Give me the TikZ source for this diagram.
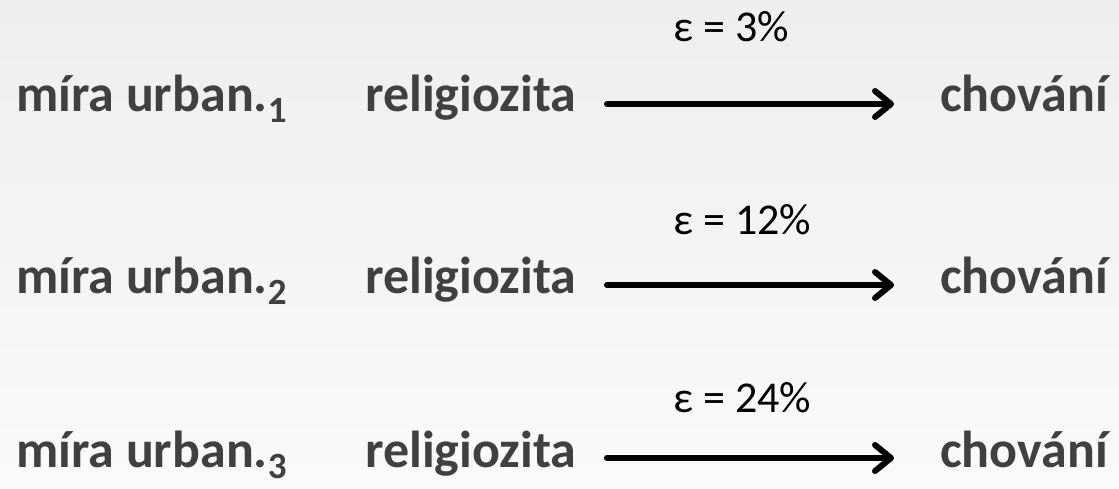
\documentclass[tikz,border=0pt]{standalone}
\usepackage{fontspec}
\setmainfont{Carlito}
\usetikzlibrary{arrows.meta}
\definecolor{txt}{HTML}{404040}
\definecolor{bgtop}{HTML}{EEEEEE}
\definecolor{bgbot}{HTML}{FAFAFA}
\newcommand{\subidx}[1]{\raisebox{-11pt}{\fontsize{37}{40}\selectfont #1}}
\begin{document}
\begin{tikzpicture}[x=1pt,y=-1pt,
  lbl/.style={inner sep=0pt, anchor=base west, text=txt, font=\fontsize{52}{60}\selectfont\bfseries},
  eps/.style={inner sep=0pt, anchor=base west, text=black, font=\fontsize{44}{50}\selectfont},
  conn/.style={line width=6pt, line cap=round, -{Straight Barb[length=16pt,width=26pt,line cap=round,line join=round]}}]
\shade[top color=bgtop, bottom color=bgbot] (0,0) rectangle (1119,489);
\useasboundingbox (0,0) rectangle (1119,489);
\foreach \i/\ty/\ay/\ey/\e in {1/112/104/42/3, 2/293/285/234/12, 3/467/458/412/24}{
  \node[lbl] (m\i) at (16,\ty) {míra urban.\subidx{\i}};
  \node[lbl] (r\i) at (365,\ty) {religiozita};
  \node[lbl] (c\i) at (940,\ty) {chování};
  \node[eps] (e\i) at (673,\ey) {ε = \e\%};
  \coordinate (s\i) at (607,\ay);
  \coordinate (t\i) at (894,\ay);
  \draw[conn] (s\i) -- (t\i);
}
\end{tikzpicture}
\end{document}
